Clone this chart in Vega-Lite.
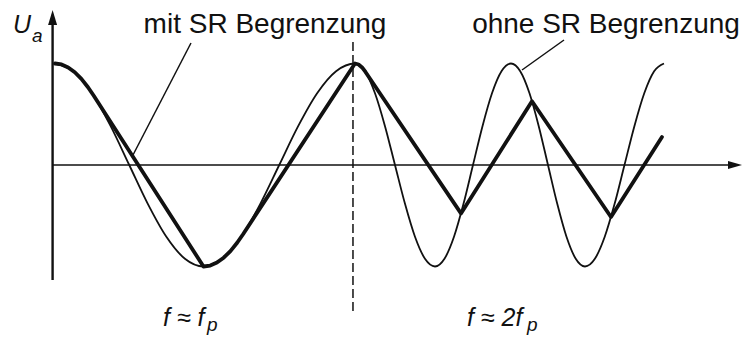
{
  "$schema": "https://vega.github.io/schema/vega-lite/v6.json",
  "width": 744,
  "height": 340,
  "padding": 0,
  "autosize": {"type": "fit", "contains": "padding"},
  "background": "white",
  "config": {"view": {"stroke": null}},
  "datasets": {
    "thin": [
      {"t": 0, "U": 1}, {"t": 0.0619, "U": 0.9239}, {"t": 0.1238, "U": 0.7071}, {"t": 0.1856, "U": 0.3827}, {"t": 0.2475, "U": 0}, {"t": 0.3094, "U": -0.3827}, {"t": 0.3713, "U": -0.7071}, {"t": 0.4331, "U": -0.9239}, {"t": 0.495, "U": -1},
      {"t": 0.5581, "U": -0.9239}, {"t": 0.6213, "U": -0.7071}, {"t": 0.6844, "U": -0.3827}, {"t": 0.7475, "U": 0}, {"t": 0.8106, "U": 0.3827}, {"t": 0.8738, "U": 0.7071}, {"t": 0.9369, "U": 0.9239}, {"t": 1.0, "U": 1},
      {"t": 1.0333, "U": 0.9239}, {"t": 1.0667, "U": 0.7071}, {"t": 1.1, "U": 0.3827}, {"t": 1.1333, "U": 0}, {"t": 1.1667, "U": -0.3827}, {"t": 1.2, "U": -0.7071}, {"t": 1.2333, "U": -0.9239}, {"t": 1.2667, "U": -1},
      {"t": 1.2983, "U": -0.9239}, {"t": 1.33, "U": -0.7071}, {"t": 1.3617, "U": -0.3827}, {"t": 1.3933, "U": 0}, {"t": 1.425, "U": 0.3827}, {"t": 1.4567, "U": 0.7071}, {"t": 1.4883, "U": 0.9239}, {"t": 1.52, "U": 1},
      {"t": 1.5508, "U": 0.9239}, {"t": 1.5817, "U": 0.7071}, {"t": 1.6125, "U": 0.3827}, {"t": 1.6433, "U": 0}, {"t": 1.6742, "U": -0.3827}, {"t": 1.705, "U": -0.7071}, {"t": 1.7358, "U": -0.9239}, {"t": 1.7667, "U": -1},
      {"t": 1.7996, "U": -0.9239}, {"t": 1.8325, "U": -0.7071}, {"t": 1.8654, "U": -0.3827}, {"t": 1.8983, "U": 0}, {"t": 1.9313, "U": 0.3827}, {"t": 1.9642, "U": 0.7071}, {"t": 1.9971, "U": 0.9239}, {"t": 2.03, "U": 1}
    ],
    "thick": [
      {"t": 0, "U": 1}, {"t": 0.022, "U": 0.9903}, {"t": 0.044, "U": 0.9613}, {"t": 0.066, "U": 0.9135}, {"t": 0.088, "U": 0.848}, {"t": 0.11, "U": 0.766}, {"t": 0.1293, "U": 0.682},
      {"t": 0.495, "U": -1}, {"t": 0.5174, "U": -0.9903}, {"t": 0.5399, "U": -0.9613}, {"t": 0.5623, "U": -0.9135}, {"t": 0.5848, "U": -0.848}, {"t": 0.6072, "U": -0.766}, {"t": 0.6269, "U": -0.682},
      {"t": 1.0, "U": 1}, {"t": 1.0119, "U": 0.9903}, {"t": 1.0237, "U": 0.9613}, {"t": 1.035, "U": 0.9164},
      {"t": 1.3533, "U": -0.477}, {"t": 1.59, "U": 0.628}, {"t": 1.8533, "U": -0.512}, {"t": 2.0233, "U": 0.276}
    ],
    "yaxis": [{"t": -0.008, "U": -1.133, "t2": -0.008, "U2": 1.43}],
    "xaxis": [{"t": -0.008, "U": 0, "t2": 2.25, "U2": 0}],
    "arrowUp": [{"t": -0.008, "U": 1.4532}],
    "arrowRight": [{"t": 2.2667, "U": 0}],
    "divider": [{"t": 0.9933, "U": 1.2118, "t2": 0.9933, "U2": -1.458}],
    "leaders": [
      {"t": 0.4533, "U": 1.202, "t2": 0.26, "U2": 0.0985},
      {"t": 1.6967, "U": 1.2315, "t2": 1.5567, "U2": 0.936}
    ],
    "labels": [
      {"t": 0.7, "U": 1.3005, "text": "mit SR Begrenzung"},
      {"t": 1.8367, "U": 1.3005, "text": "ohne SR Begrenzung"}
    ],
    "symbols": [
      {"t": -0.14, "U": 1.3005, "text": "U"},
      {"t": 0.36, "U": -1.586, "text": "f ≈ f"},
      {"t": 1.3733, "U": -1.586, "text": "f ≈ 2f"}
    ],
    "subs": [
      {"t": -0.0767, "U": 1.2118, "text": "a"},
      {"t": 0.5067, "U": -1.6355, "text": "p"},
      {"t": 1.5733, "U": -1.6355, "text": "p"}
    ]
  },
  "encoding": {
    "x": {"field": "t", "type": "quantitative", "scale": {"domain": [-0.1833, 2.2967], "nice": false, "zero": false}, "axis": null},
    "y": {"field": "U", "type": "quantitative", "scale": {"domain": [-1.7241, 1.6256], "nice": false, "zero": false}, "axis": null}
  },
  "layer": [
    {"data": {"name": "yaxis"}, "mark": {"type": "rule", "color": "#111", "strokeWidth": 2.4}, "encoding": {"x2": {"field": "t2"}, "y2": {"field": "U2"}}},
    {"data": {"name": "xaxis"}, "mark": {"type": "rule", "color": "#111", "strokeWidth": 1.7}, "encoding": {"x2": {"field": "t2"}, "y2": {"field": "U2"}}},
    {"data": {"name": "arrowUp"}, "mark": {"type": "point", "shape": "M0,-1L-0.6,1L0.6,1Z", "size": 225, "filled": true, "color": "#111", "opacity": 1}},
    {"data": {"name": "arrowRight"}, "mark": {"type": "point", "shape": "M1,0L-1,-0.57L-1,0.57Z", "size": 196, "filled": true, "color": "#111", "opacity": 1}},
    {"data": {"name": "divider"}, "mark": {"type": "rule", "color": "#111", "strokeWidth": 1.5, "strokeDash": [9, 4]}, "encoding": {"x2": {"field": "t2"}, "y2": {"field": "U2"}}},
    {"data": {"name": "leaders"}, "mark": {"type": "rule", "color": "#111", "strokeWidth": 1.5}, "encoding": {"x2": {"field": "t2"}, "y2": {"field": "U2"}}},
    {"data": {"name": "thin"}, "mark": {"type": "line", "color": "#111", "strokeWidth": 1.8, "interpolate": "monotone"}},
    {"data": {"name": "thick"}, "mark": {"type": "line", "color": "#111", "strokeWidth": 3.8, "interpolate": "linear", "strokeJoin": "round", "strokeCap": "round"}},
    {"data": {"name": "labels"}, "mark": {"type": "text", "font": "Liberation Sans", "fontSize": 28, "align": "center", "baseline": "alphabetic", "color": "#111"}, "encoding": {"text": {"field": "text"}}},
    {"data": {"name": "symbols"}, "mark": {"type": "text", "font": "Liberation Sans", "fontSize": 25, "fontStyle": "italic", "align": "left", "baseline": "alphabetic", "color": "#111"}, "encoding": {"text": {"field": "text"}}},
    {"data": {"name": "subs"}, "mark": {"type": "text", "font": "Liberation Sans", "fontSize": 19, "fontStyle": "italic", "align": "left", "baseline": "alphabetic", "color": "#111"}, "encoding": {"text": {"field": "text"}}}
  ]
}
